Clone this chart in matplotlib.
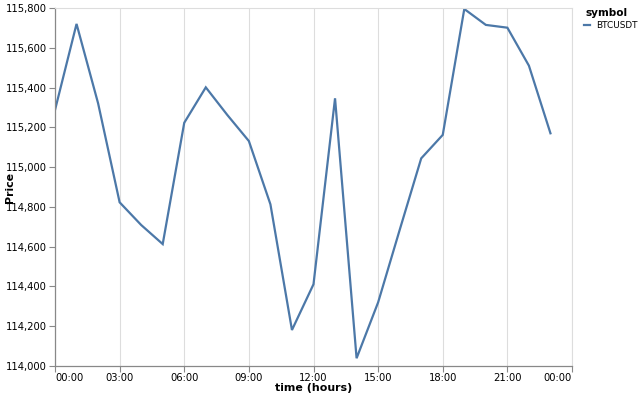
import matplotlib
matplotlib.use("Agg")
import matplotlib.pyplot as plt
from matplotlib.lines import Line2D
from matplotlib.ticker import FuncFormatter

hours = list(range(24))
price = [115287, 115720, 115321, 114823, 114709, 114613, 115223, 115401,
         115262, 115131, 114813, 114181, 114411, 115346, 114039, 114320,
         114684, 115044, 115162, 115795, 115715, 115701, 115510, 115170]
tick_hours = [0, 3, 6, 9, 12, 15, 18, 21, 24]
tick_labels = ["00:00", "03:00", "06:00", "09:00", "12:00", "15:00", "18:00", "21:00", "00:00"]
y_ticks = [114000, 114200, 114400, 114600, 114800, 115000, 115200, 115400, 115600, 115800]

blue = "#4c78a8"
plt.rcParams['font.family'] = ['DejaVu Sans']

fig = plt.figure(figsize=(6.4, 3.95), dpi=100)
ax = fig.add_axes([55/640, 1 - 366/395, (572-55)/640, (366-8)/395])

ax.plot(hours, price, color=blue, lw=1.6, solid_joinstyle='miter')

ax.set_xlim(0, 24)
ax.set_ylim(114000, 115800)
ax.set_xticks(tick_hours)
ax.set_xticklabels(tick_labels)
ax.set_yticks(y_ticks)
ax.yaxis.set_major_formatter(FuncFormatter(lambda v, p: f"{int(v):,}"))

ax.grid(axis='x', color='#dddddd', lw=0.8)
ax.set_axisbelow(True)
for s in ['top', 'right']:
    ax.spines[s].set_color('#dddddd')
    ax.spines[s].set_linewidth(0.8)
for s in ['left', 'bottom']:
    ax.spines[s].set_color('#888888')
    ax.spines[s].set_linewidth(0.9)
ax.tick_params(axis='both', labelsize=7.2, color='#888888', length=4, width=0.8, pad=2)
ax.tick_params(axis='x', pad=1)

# first label flush left, last flush right (like vega)
xl = ax.get_xticklabels()
xl[0].set_horizontalalignment('left')
xl[-1].set_horizontalalignment('right')

ax.set_xlabel("time (hours)", fontsize=7.9, fontweight='bold')
ax.xaxis.set_label_coords(0.5, -(388 - 366) / 358, transform=ax.transAxes)
ax.xaxis.label.set_va('center')
ax.set_ylabel("Price", fontsize=7.9, fontweight='bold')
ax.yaxis.set_label_coords(-(55 - 10) / 517, 0.5)
ax.yaxis.label.set_va('center')

# legend
fig.text(585/640, 1 - 13/395, "symbol", fontsize=7.6, fontweight='bold', va='center', ha='left')
fig.add_artist(Line2D([584/640, 590/640], [1 - 25/395, 1 - 25/395], color=blue, lw=1.6))
fig.text(596/640, 1 - 25/395, "BTCUSDT", fontsize=6.4, va='center', ha='left')

fig.savefig("out.png", dpi=100)
